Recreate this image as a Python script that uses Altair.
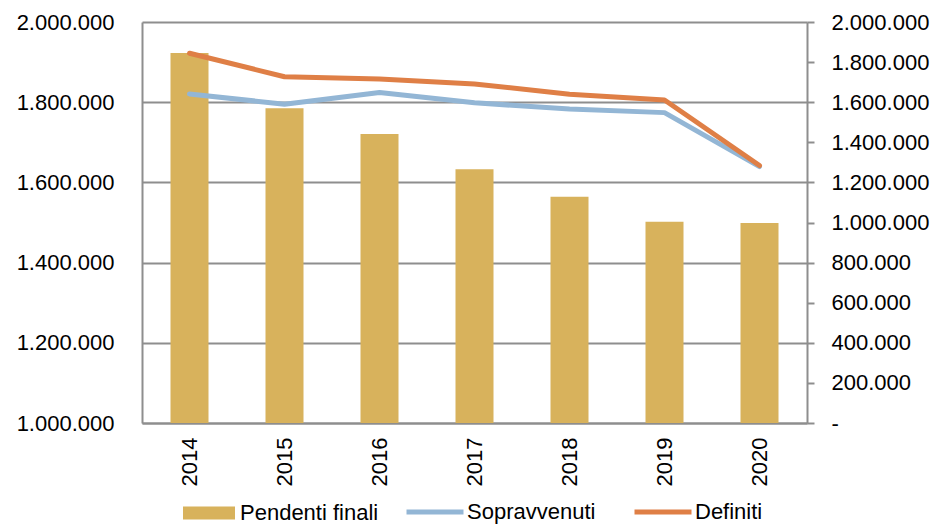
import altair as alt
import pandas as pd

years = ["2014", "2015", "2016", "2017", "2018", "2019", "2020"]
pendenti = [1923000, 1785000, 1721000, 1633000, 1564000, 1502000, 1499000]
sopravvenuti = [1641000, 1590000, 1648000, 1597000, 1566000, 1548000, 1279000]
definiti = [1844000, 1727000, 1716000, 1691000, 1640000, 1611000, 1284000]

left_ticks = [1000000, 1200000, 1400000, 1600000, 1800000, 2000000]
right_ticks = [0, 200000, 400000, 600000, 800000, 1000000, 1200000, 1400000,
               1600000, 1800000, 2000000]

GRAY = "#8E8E8E"
FONT = "Liberation Sans"
FS = 22

bars_df = pd.DataFrame({"anno": years, "valore": pendenti, "serie": "Pendenti finali"})
lines_df = pd.DataFrame({
    "anno": years * 2,
    "valore": sopravvenuti + definiti,
    "serie": ["Sopravvenuti"] * len(years) + ["Definiti"] * len(years),
})

x_enc = alt.X(
    "anno:N",
    sort=years,
    scale=alt.Scale(paddingInner=0.6, paddingOuter=0.3),
    axis=alt.Axis(title=None, labelAngle=270, ticks=False, domainColor=GRAY,
                  domainWidth=2, labelPadding=14, labelFont=FONT,
                  labelFontSize=FS, labelColor="black"),
)

bars = alt.Chart(bars_df).mark_bar(clip=True).encode(
    x=x_enc,
    y=alt.Y("valore:Q",
            scale=alt.Scale(domain=[1000000, 2000000], nice=False, zero=False),
            axis=alt.Axis(title=None, values=left_ticks, format=",.0f", grid=True,
                          gridColor=GRAY, gridWidth=2, ticks=False,
                          domainColor=GRAY, domainWidth=2, labelPadding=28,
                          labelFont=FONT, labelFontSize=FS, labelColor="black")),
    color=alt.Color("serie:N",
                    scale=alt.Scale(domain=["Pendenti finali"], range=["#D8B25C"]),
                    legend=alt.Legend(title=None, orient="none", legendX=40, legendY=464,
                                      symbolType="M-1,-0.25L1,-0.25L1,0.25L-1,0.25Z",
                                      symbolSize=2704, labelLimit=400,
                                      labelFont=FONT, labelFontSize=FS,
                                      labelColor="black",
                                      direction="horizontal")),
)

lines = alt.Chart(lines_df).mark_line(strokeWidth=5, strokeCap="round",
                                       strokeJoin="round").encode(
    x=alt.X("anno:N", sort=years),
    y=alt.Y("valore:Q",
            scale=alt.Scale(domain=[0, 2000000], nice=False, zero=True),
            axis=alt.Axis(title=None, orient="right", values=right_ticks,
                          format=",.0f", grid=False, ticks=True, tickSize=7,
                          tickColor=GRAY, tickWidth=2, domainColor=GRAY,
                          domainWidth=2, labelPadding=17,
                          labelExpr="datum.value == 0 ? '-' : datum.label",
                          labelFont=FONT, labelFontSize=FS, labelColor="black")),
    color=alt.Color("serie:N",
                    scale=alt.Scale(domain=["Sopravvenuti", "Definiti"],
                                    range=["#93B6D5", "#DF7F46"]),
                    legend=alt.Legend(title=None, orient="none", legendX=262, legendY=459,
                                      symbolType="stroke", symbolSize=3249,
                                      symbolStrokeWidth=5, columnPadding=28,
                                      labelOffset=1, labelLimit=400,
                                      labelFont=FONT, labelFontSize=FS,
                                      labelColor="black",
                                      direction="horizontal")),
    order=alt.Order("anno:N"),
)

chart = alt.layer(bars, lines).resolve_scale(
    y="independent", color="independent"
).resolve_legend(color="independent").properties(
    width=665, height=401,
    autosize=alt.AutoSizeParams(type="none"),
    padding={"left": 134, "top": 14, "right": 123, "bottom": 104},
).configure(
    locale={"number": {"decimal": ",", "thousands": ".", "grouping": [3],
                       "currency": ["€", ""]}}
).configure_view(stroke=None)

chart.save("out.html", embed_options={"renderer": "svg", "actions": False})
